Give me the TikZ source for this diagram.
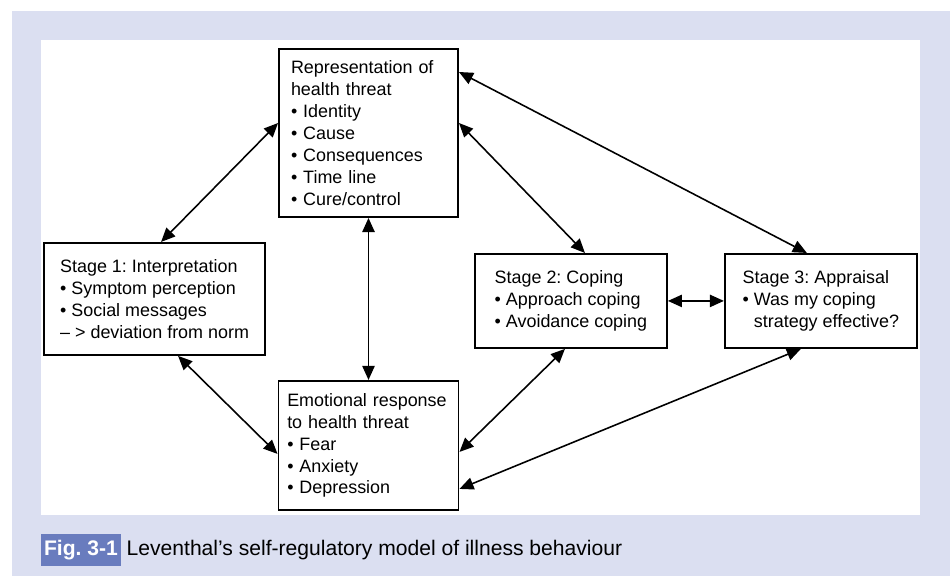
\documentclass[tikz,border=0pt]{standalone}
\usepackage{fontspec}
\setmainfont{Liberation Sans}
\usepackage{xcolor}
\usetikzlibrary{positioning,arrows.meta}
\definecolor{panelback}{RGB}{219,223,241}
\definecolor{figtagblue}{RGB}{105,124,190}
\frenchspacing

\begin{document}
\begin{tikzpicture}[
		stagebox/.style={draw, line width=1.1pt, align=left, inner sep=0pt, font=\fontsize{10.2}{12.5}\selectfont},
		link/.style={>={Triangle[length=8pt,width=7pt]}, <->, line width=0.9pt}
	]
	\useasboundingbox (0,0) rectangle (19,11.52);
	\fill[panelback] (0.24,0) rectangle (19,11.3);
	\fill[white] (0.82,1.22) rectangle (18.4,10.72);

	\node[stagebox, minimum width=3.58cm, minimum height=3.36cm, text width=3.1cm] (rep) at (7.37,8.86)
		{Representation of\\health threat\\\textbullet\ Identity\\\textbullet\ Cause\\\textbullet\ Consequences\\\textbullet\ Time line\\\textbullet\ Cure/control};
	\node[stagebox, below=3.24cm of rep, minimum width=3.6cm, minimum height=2.58cm, text width=3.25cm] (emo)
		{Emotional response\\to health threat\\\textbullet\ Fear\\\textbullet\ Anxiety\\\textbullet\ Depression};
	\node[stagebox, below left=0.48cm and 0.24cm of rep, minimum width=4.42cm, minimum height=2.24cm] (s1)
		{Stage 1: Interpretation\\\textbullet\ Symptom perception\\\textbullet\ Social messages\\– > deviation from norm};
	\node[stagebox, below right=0.7cm and 0.3cm of rep, minimum width=3.84cm, minimum height=1.88cm] (s2)
		{Stage 2: Coping\\\textbullet\ Approach coping\\\textbullet\ Avoidance coping};
	\node[stagebox, right=1.12cm of s2, minimum width=3.84cm, minimum height=1.88cm] (s3)
		{Stage 3: Appraisal\\\textbullet\ Was my coping\\\phantom{\textbullet\ }strategy effective?};

	\draw[link] ([xshift=0.13cm]s1.north) -- ([yshift=0.2cm]rep.west);
	\draw[link] ([xshift=0.47cm]s1.south) -- ([yshift=-0.17cm]emo.west);
	\draw[link] (rep.south) -- (emo.north);
	\draw[link] ([yshift=0.2cm]rep.east) -- ([xshift=0.28cm]s2.north);
	\draw[link] ([yshift=1.22cm]rep.east) -- ([xshift=-0.28cm]s3.north);
	\draw[link] (s2) -- (s3);
	\draw[link] ([yshift=-0.13cm]emo.east) -- ([xshift=-0.12cm]s2.south);
	\draw[link] ([yshift=-0.87cm]emo.east) -- ([xshift=-0.4cm]s3.south);

	\node[fill=figtagblue, text=white, font=\fontsize{12}{14}\selectfont\bfseries, minimum width=1.6cm, minimum height=0.64cm, inner sep=0pt] (figtag) at (1.62,0.52) {Fig. 3-1};
	\node[right=0.1cm of figtag, inner sep=0pt, font=\fontsize{12}{14}\selectfont] (caption) {Leventhal’s self-regulatory model of illness behaviour};
\end{tikzpicture}
\end{document}
